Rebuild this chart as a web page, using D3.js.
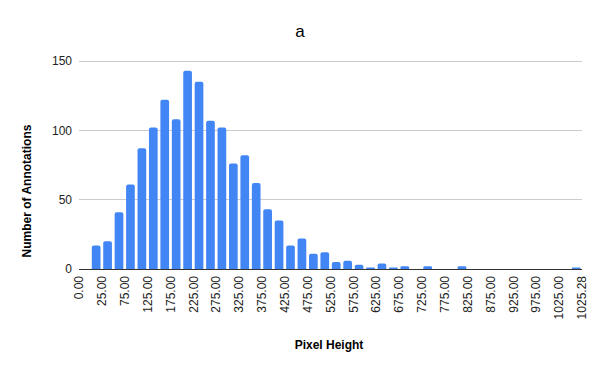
<!DOCTYPE html>
<html><head><meta charset="utf-8">
<script src="https://cdn.jsdelivr.net/npm/d3@7"></script>
<style>body{margin:0;background:#fff;}svg{display:block;font-family:Arial,"Liberation Sans",sans-serif;}</style>
</head><body>
<svg id="c" width="600" height="371"></svg>
<script>
const chartTitle = "a";
const xTitle = "Pixel Height";
const yTitle = "Number of Annotations";
// one count per histogram bucket (44 buckets)
const counts = [0,17,20,41,61,87,102,122,108,143,135,107,102,76,82,62,43,35,17,22,11,12,
                5,6,3,1,4,1,2,0,2,0,0,2,0,0,0,0,0,0,0,0,0,1];
// labels at every second bucket edge (edges 0,2,4,...,44)
const xTickLabels = ["0.00","25.00","75.00","125.00","175.00","225.00","275.00","325.00","375.00","425.00","475.00","525.00",
  "575.00","625.00","675.00","725.00","775.00","825.00","875.00","925.00","975.00","1025.00","1025.28"];
const yTicks = [0,50,100,150];

const svg = d3.select("#c");
const L = 79, R = 582, T = 61, B = 269;
const x = d3.scaleBand().domain(d3.range(counts.length)).range([L, R]).paddingInner(0.24).paddingOuter(0.12);
const edge = d3.scaleLinear().domain([0, counts.length]).range([L, R]);
const y = d3.scaleLinear().domain([0,150]).range([B, T]);

// gridlines
svg.append("g").selectAll("line").data(yTicks.filter(d=>d>0)).join("line")
  .attr("x1", L).attr("x2", R).attr("y1", d=>y(d)).attr("y2", d=>y(d))
  .attr("stroke", "#cccccc").attr("stroke-width", 1).attr("shape-rendering","crispEdges");

// y labels
svg.append("g").selectAll("text").data(yTicks).join("text")
  .attr("x", L - 7).attr("y", d=>y(d)).attr("dy", "0.35em").attr("text-anchor","end")
  .attr("font-size", 12).attr("fill", "#222").text(d=>d);

// bars with rounded top
svg.append("g").selectAll("path").data(counts.map((v,i)=>({v,i})).filter(d=>d.v>0)).join("path")
  .attr("fill", "#4285f4")
  .attr("d", d => {
    const x0 = x(d.i), w = x.bandwidth(), y0 = y(d.v), h = B - y0;
    const r = Math.min(2, h/2);
    return `M${x0},${B}V${y0+r}Q${x0},${y0} ${x0+r},${y0}H${x0+w-r}Q${x0+w},${y0} ${x0+w},${y0+r}V${B}Z`;
  });

// baseline
svg.append("line").attr("x1", L).attr("x2", R).attr("y1", B).attr("y2", B)
  .attr("stroke", "#333").attr("stroke-width", 1).attr("shape-rendering","crispEdges");

// x labels
svg.append("g").selectAll("text").data(xTickLabels).join("text")
  .attr("transform", (d,i)=>`translate(${edge(i*2)},${B+7}) rotate(-90)`)
  .attr("text-anchor","end").attr("dy","0.35em")
  .attr("font-size", 12).attr("fill", "#222").text(d=>d);

// titles
svg.append("text").attr("x", 300).attr("y", 37).attr("text-anchor","middle")
  .attr("font-size", 17).attr("fill","#000").text(chartTitle);
svg.append("text").attr("x", 329).attr("y", 349).attr("text-anchor","middle")
  .attr("font-size", 12).attr("font-weight","bold").attr("fill","#000").text(xTitle);
svg.append("text").attr("transform", "translate(31,191) rotate(-90)").attr("text-anchor","middle")
  .attr("font-size", 12).attr("font-weight","bold").attr("fill","#000").text(yTitle);
</script>
</body></html>
